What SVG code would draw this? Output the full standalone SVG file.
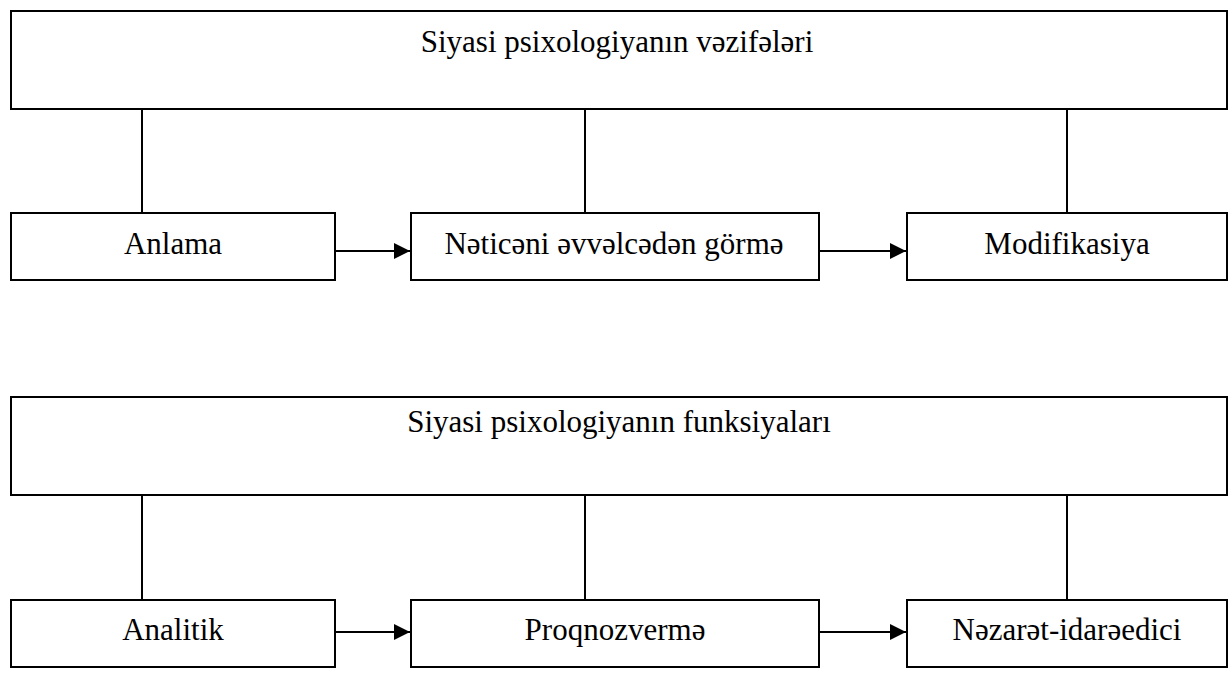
<svg xmlns="http://www.w3.org/2000/svg" width="1232" height="674" viewBox="0 0 1232 674">
<style>
.box{fill:#fff;stroke:#000;stroke-width:2}
.t{font-family:"Liberation Serif","Times New Roman",serif;font-size:31px;fill:#000;text-anchor:middle}
.ln{stroke:#000;stroke-width:2;fill:none}
</style>
<defs>
<marker id="ah" markerUnits="userSpaceOnUse" markerWidth="16" markerHeight="16" refX="16" refY="8" orient="auto">
<path d="M0,0 L16,8 L0,16 Z" fill="#000"/>
</marker>
</defs>
<rect width="1232" height="674" fill="#fff"/>
<g id="connectors">
<line class="ln" x1="142" y1="109" x2="142" y2="213"/>
<line class="ln" x1="585" y1="109" x2="585" y2="213"/>
<line class="ln" x1="1067" y1="109" x2="1067" y2="213"/>
<line class="ln" x1="335" y1="251" x2="410" y2="251" marker-end="url(#ah)"/>
<line class="ln" x1="819" y1="251" x2="906" y2="251" marker-end="url(#ah)"/>
<line class="ln" x1="142" y1="495" x2="142" y2="600"/>
<line class="ln" x1="585" y1="495" x2="585" y2="600"/>
<line class="ln" x1="1067" y1="495" x2="1067" y2="600"/>
<line class="ln" x1="335" y1="632" x2="410" y2="632" marker-end="url(#ah)"/>
<line class="ln" x1="819" y1="632" x2="906" y2="632" marker-end="url(#ah)"/>
</g>
<g id="title1"><rect class="box" x="11" y="11" width="1216" height="98"/><text class="t" x="617" y="52">Siyasi psixologiyanın vəzifələri</text></g>
<g id="anlama"><rect class="box" x="11" y="213" width="324" height="67"/><text class="t" x="173" y="254">Anlama</text></g>
<g id="neticeni"><rect class="box" x="411" y="213" width="408" height="67"/><text class="t" x="614" y="254">Nəticəni əvvəlcədən görmə</text></g>
<g id="modifikasiya"><rect class="box" x="907" y="213" width="320" height="67"/><text class="t" x="1067" y="254">Modifikasiya</text></g>
<g id="title2"><rect class="box" x="11" y="397" width="1216" height="98"/><text class="t" x="619" y="432">Siyasi psixologiyanın funksiyaları</text></g>
<g id="analitik"><rect class="box" x="11" y="600" width="324" height="67"/><text class="t" x="173" y="640">Analitik</text></g>
<g id="proqnoz"><rect class="box" x="411" y="600" width="408" height="67"/><text class="t" x="615" y="640">Proqnozvermə</text></g>
<g id="nezaret"><rect class="box" x="907" y="600" width="320" height="67"/><text class="t" x="1067" y="640">Nəzarət-idarəedici</text></g>
</svg>
